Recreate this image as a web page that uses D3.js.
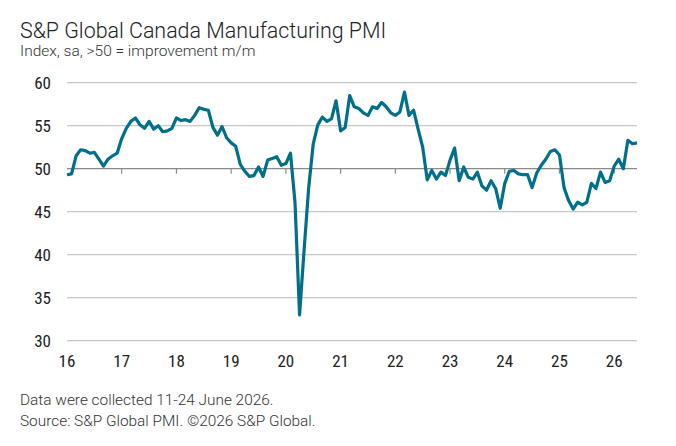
<!DOCTYPE html>
<html><head><meta charset="utf-8">
<script src="https://cdn.jsdelivr.net/npm/d3@7"></script>
<style>
body{margin:0;background:#fff;}
svg{display:block;}
</style></head><body>
<svg id="c" width="676" height="446"></svg>
<script>
const startYear = 2016;
const values = [
 49.3,49.4,51.5,52.2,52.1,51.8,51.9,51.1,50.3,51.1,51.5,51.8,
 53.5,54.7,55.5,55.9,55.1,54.7,55.5,54.6,55.0,54.3,54.4,54.7,
 55.9,55.6,55.7,55.5,56.2,57.1,56.9,56.8,54.8,53.9,54.9,53.6,
 53.0,52.6,50.5,49.7,49.1,49.2,50.2,49.1,51.0,51.2,51.4,50.4,
 50.6,51.8,46.1,33.0,40.6,47.8,52.9,55.1,56.0,55.5,55.8,57.9,
 54.4,54.8,58.5,57.2,57.0,56.5,56.2,57.2,57.0,57.7,57.2,56.5,
 56.2,56.6,58.9,56.2,56.8,54.6,52.5,48.7,49.8,48.8,49.6,49.2,
 51.0,52.4,48.6,50.2,49.0,48.8,49.6,48.0,47.5,48.6,47.7,45.4,
 48.3,49.7,49.8,49.4,49.3,49.3,47.8,49.5,50.4,51.1,52.0,52.2,
 51.6,47.8,46.3,45.3,46.1,45.8,46.1,48.3,47.7,49.6,48.4,48.6,
 50.3,51.1,50.0,53.3,52.9,53.0
];
const yTicks = [30,35,40,45,50,55,60];
const xTickLabels = ["16","17","18","19","20","21","22","23","24","25","26"];
const title = "S&P Global Canada Manufacturing PMI";
const subtitle = "Index, sa, >50 = improvement m/m";
const notes = ["Data were collected 11-24 June 2026.","Source: S&P Global PMI. \u00A92026 S&P Global."];

const svg = d3.select("#c");
const x = d3.scaleLinear().domain([0,125]).range([67,637]);
const y = d3.scaleLinear().domain([30,60]).range([340.7,82.7]);
const font = "Roboto, 'Liberation Sans', sans-serif";
const tickFont = "'Liberation Sans Narrow', 'Roboto Condensed', Roboto, sans-serif";

svg.append("text").attr("x",20).attr("y",38).attr("font-family",font).attr("font-weight",300)
  .attr("font-size",21.4).attr("fill","#222").text(title);
svg.append("text").attr("x",20).attr("y",56).attr("font-family",font).attr("font-weight",300)
  .attr("font-size",15.5).attr("fill","#333").text(subtitle);

// gridlines
svg.append("g").selectAll("line").data(yTicks.filter(d=>d!==50)).join("line")
  .attr("x1",67).attr("x2",637).attr("y1",d=>y(d)).attr("y2",d=>y(d))
  .attr("stroke","#c8c8c8").attr("stroke-width",1.2);
// y labels
svg.append("g").selectAll("text").data(yTicks).join("text")
  .attr("x",51).attr("y",d=>y(d)+6).attr("text-anchor","end")
  .attr("font-family",tickFont).attr("font-size",17).attr("fill","#222").text(d=>d);
// 50 axis line
svg.append("line").attr("x1",67).attr("x2",637).attr("y1",y(50)).attr("y2",y(50))
  .attr("stroke","#8a8a8a").attr("stroke-width",1.3);
// x ticks on 50 line
const yearIdx = xTickLabels.map((d,i)=>i*12);
svg.append("g").selectAll("line").data(yearIdx.slice(1)).join("line")
  .attr("x1",d=>x(d)).attr("x2",d=>x(d)).attr("y1",y(50)).attr("y2",y(50)+5)
  .attr("stroke","#8a8a8a").attr("stroke-width",1.2);
// x labels
svg.append("g").selectAll("text").data(xTickLabels).join("text")
  .attr("x",(d,i)=>x(i*12)).attr("y",367).attr("text-anchor","middle")
  .attr("font-family",tickFont).attr("font-size",17).attr("fill","#222").text(d=>d);

// line
const line = d3.line().x((d,i)=>x(i)).y(d=>y(d));
svg.append("path").datum(values).attr("d",line).attr("fill","none")
  .attr("stroke","#006f8a").attr("stroke-width",3.2).attr("stroke-linejoin","round");

svg.append("g").selectAll("text").data(notes).join("text")
  .attr("x",20).attr("y",(d,i)=>405+i*21).attr("font-family",font).attr("font-weight",300)
  .attr("font-size",15.4).attr("fill","#333").text(d=>d);
</script>
</body></html>
